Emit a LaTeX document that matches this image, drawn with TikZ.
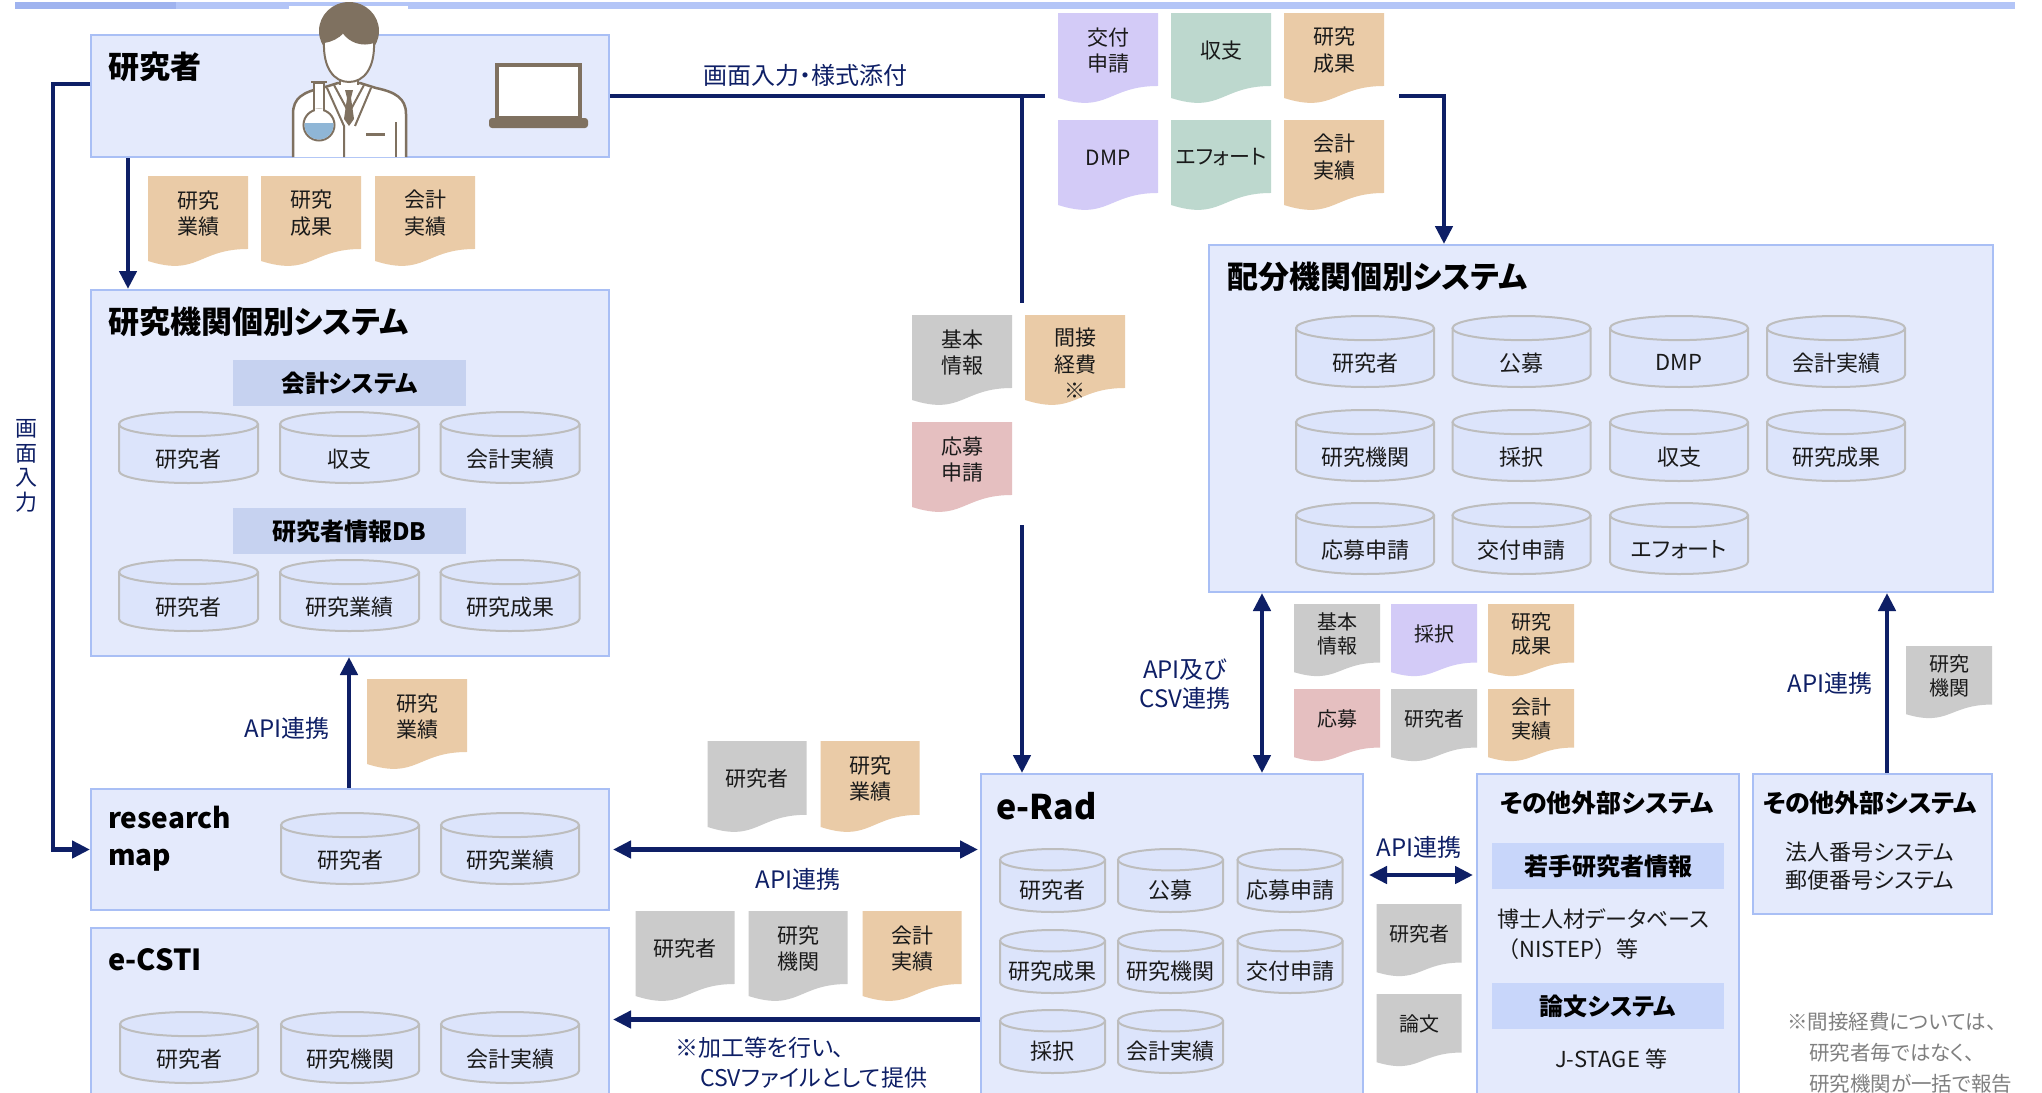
\documentclass[tikz,border=0pt]{standalone}
\usepackage{fontspec}
\setmainfont{Noto Sans CJK JP}[RawFeature={+palt}]
\newfontfamily\jpfull{Noto Sans CJK JP}
\usetikzlibrary{arrows.meta,calc}

\definecolor{navy}{HTML}{0E1F66}
\definecolor{boxfill}{HTML}{E4EAFC}
\definecolor{boxedge}{HTML}{A9BFF5}
\definecolor{cylfill}{HTML}{DCE4FB}
\definecolor{cyledge}{HTML}{BDBDBD}
\definecolor{hdrfill}{HTML}{C6D2F0}
\definecolor{hdrblue}{HTML}{C8D6FA}
\definecolor{doctan}{HTML}{EACBA7}
\definecolor{doclav}{HTML}{D3CBF7}
\definecolor{docmint}{HTML}{BDD8CE}
\definecolor{docgray}{HTML}{CBCBCB}
\definecolor{docpink}{HTML}{E5BFC0}
\definecolor{figbrown}{HTML}{7F7160}
\definecolor{liquid}{HTML}{8FB6D6}
\definecolor{barblue}{HTML}{B3C5F7}
\definecolor{bardark}{HTML}{9FB3EF}
\definecolor{notegray}{HTML}{808080}
\definecolor{inktext}{HTML}{1A1A1A}

\tikzset{
  sysbox/.style={draw=boxedge, fill=boxfill, line width=2pt, inner sep=0pt, anchor=north west},
  boxtitle/.style={font=\fontsize{31}{37}\selectfont\bfseries, anchor=west, inner sep=0pt, align=left, text=black},
  subtitle/.style={font=\fontsize{25}{30}\selectfont\bfseries, inner sep=0pt, text=black},
  hdr/.style={fill=hdrfill, minimum width=233pt, minimum height=46pt, inner sep=0pt,
    font=\fontsize{24}{28}\selectfont\bfseries, text=black},
  doctext/.style={font=\fontsize{21}{26.5}\selectfont, align=center, inner sep=0pt, text=inktext},
  smalldoc/.style={font=\fontsize{20}{24.5}\selectfont, align=center, inner sep=0pt, text=inktext},
  cyltext/.style={font=\fontsize{22}{26}\selectfont, inner sep=0pt, text=inktext},
  plaintext/.style={font=\fontsize{22}{30}\selectfont, inner sep=0pt, text=inktext},
  lbl/.style={font=\fontsize{24}{29}\selectfont, text=navy, inner sep=0pt, align=center},
  conn/.style={draw=navy, line width=4.5pt},
  tip/.tip={Triangle[length=18pt,width=17pt]},
}

% document-shaped data card: [text style]{name}{centre x}{top}{width}{height}{fill}{text}
\newcommand\docitem[8][doctext]{%
  \begin{scope}[shift={(#3,#4)}]
    \fill[#7] (-#5/2,0) -- (#5/2,0) -- (#5/2,0.802*#6)
      .. controls (0,0.802*#6) and (0,1.108*#6) .. (-#5/2,0.934*#6) -- cycle;
    \node[#1] (#2) at (0,0.41*#6) {#8};
  \end{scope}}

% database cylinder: {name}{centre x}{top}{width}{height}{text}
\newcommand\dbitem[6]{%
  \begin{scope}[shift={(#2,#3)}]
    \pgfmathsetmacro\cylhw{#4/2}%
    \pgfmathsetmacro\cylry{#5*0.17}%
    \path[fill=cylfill, draw=cyledge, line width=2pt]
      (-\cylhw,\cylry) -- (-\cylhw,#5-\cylry)
      .. controls (-\cylhw,#5-0.4477*\cylry) and (-0.5523*\cylhw,#5) .. (0,#5)
      .. controls (0.5523*\cylhw,#5) and (\cylhw,#5-0.4477*\cylry) .. (\cylhw,#5-\cylry)
      -- (\cylhw,\cylry);
    \path[fill=cylfill, draw=cyledge, line width=2pt]
      (0,\cylry) ellipse [x radius=\cylhw, y radius=\cylry];
    \node[cyltext] (#1) at (0,0.66*#5) {#6};
  \end{scope}}

\begin{document}
\begin{tikzpicture}[x=1pt,y=-1pt]
\useasboundingbox (0,0) rectangle (2042,1092);
\clip (0,0) rectangle (2042,1092);
\fill[white] (0,0) rectangle (2042,1092);

% header band
\fill[barblue] (15,2) rectangle (2015,9);
\fill[bardark] (15,2) rectangle (176,9);

% ---------- system boxes ----------
\node[sysbox, minimum width=518pt, minimum height=122pt] (kbox)   at (90,34)   {};
\node[sysbox, minimum width=518pt, minimum height=366pt] (kikan)  at (90,289)  {};
\node[sysbox, minimum width=784pt, minimum height=347pt] (haibun) at (1208,244) {};
\node[sysbox, minimum width=518pt, minimum height=121pt] (rmap)   at (90,788)  {};
\node[sysbox, minimum width=518pt, minimum height=183pt] (ecsti)  at (90,927)  {};
\node[sysbox, minimum width=382pt, minimum height=340pt] (erad)   at (980,773) {};
\node[sysbox, minimum width=262pt, minimum height=340pt] (other1) at (1476,773) {};
\node[sysbox, minimum width=239pt, minimum height=140pt] (other2) at (1752,773) {};

% ---------- researcher figure and laptop ----------
\fill[white] (289,6) rectangle (408,34);
\fill[figbrown] (349,31) ellipse [x radius=30, y radius=29];
\draw[figbrown, line width=2.5pt, fill=white]
  (293,157) -- (293,114) .. controls (293,98) and (303,92) .. (322,88) -- (338,83)
  -- (360,83) -- (376,88) .. controls (395,92) and (406,98) .. (406,114) -- (406,157);
\draw[figbrown, line width=2pt, fill=white] (340,74) rectangle (358,88);
\draw[figbrown, line width=2pt, fill=white]
  (324,42) .. controls (323,68) and (334,82) .. (349,82)
  .. controls (364,82) and (375,68) .. (374,42)
  .. controls (362,46) and (350,42) .. (343,32)
  .. controls (338,38) and (331,41) .. (324,42) -- cycle;
\draw[figbrown, line width=2pt, fill=white] (334,85) -- (349,113) -- (364,85);
\fill[figbrown] (345,90) -- (353,90) -- (351,98) -- (354,119) -- (349,126) -- (344,119) -- (347,98) -- cycle;
\draw[figbrown, line width=2pt] (327,88) -- (344,126) -- (344,157);
\draw[figbrown, line width=2pt] (371,88) -- (355,126);
\draw[figbrown, line width=2pt] (396,122) -- (396,157);
\draw[figbrown, line width=3pt] (366,134) -- (385,134);
% flask
\draw[figbrown, line width=2pt, fill=white] (314,83) rectangle (324,112);
\draw[figbrown, line width=2pt, fill=white] (319,125) circle [radius=15.5];
\begin{scope}
  \clip (319,125) circle [radius=14.5];
  \fill[liquid] (300,123) rectangle (340,145);
\end{scope}
\fill[white] (315.2,109) rectangle (322.8,112);
\draw[figbrown, line width=2.5pt] (311,82) -- (327,82);
% laptop
\draw[figbrown, line width=4pt, fill=white] (497,65) rectangle (580,118);
\fill[figbrown, rounded corners=3pt] (489,118) rectangle (588,128);

% ---------- titles ----------
\node[boxtitle] (tK)      at (108,67)  {研究者};
\node[boxtitle] (tKikan)  at (108,322) {研究機関個別システム};
\node[boxtitle] (tHaibun) at (1227,277) {配分機関個別システム};
\node[boxtitle, font=\fontsize{28}{37}\selectfont\bfseries] (tRmap) at (108,839) {research\\map};
\node[boxtitle, font=\fontsize{34}{40}\selectfont\bfseries] (tErad) at (996,806) {e-Rad};
\node[boxtitle, font=\fontsize{29}{36}\selectfont\bfseries] (tEcsti) at (108,960) {e-CSTI};
\node[subtitle] (tO1) at (1607,803) {その他外部システム};
\node[subtitle] (tO2) at (1870,803) {その他外部システム};

% ---------- section headers ----------
\node[hdr] (hKaikei) at (349.5,383) {会計システム};
\node[hdr] (hDB)     at (349.5,531) {研究者情報DB};
\node[hdr, fill=hdrblue, minimum width=232pt] (hWakate) at (1608,866)  {若手研究者情報};
\node[hdr, fill=hdrblue, minimum width=232pt] (hRonbun) at (1608,1006) {論文システム};

% ---------- databases ----------
\dbitem{kA}{188.5}{412}{139}{71}{研究者}
\dbitem{kB}{349.5}{412}{139}{71}{収支}
\dbitem{kC}{510}{412}{139}{71}{会計実績}
\dbitem{kD}{188.5}{560}{139}{71}{研究者}
\dbitem{kE}{349.5}{560}{139}{71}{研究業績}
\dbitem{kF}{510}{560}{139}{71}{研究成果}

\dbitem{hA}{1365}{316}{138}{71}{研究者}
\dbitem{hB}{1521.5}{316}{138}{71}{公募}
\dbitem{hC}{1679}{316}{138}{71}{DMP}
\dbitem{hD}{1836}{316}{138}{71}{会計実績}
\dbitem{hE}{1365}{410}{138}{71}{研究機関}
\dbitem{hF}{1521.5}{410}{138}{71}{採択}
\dbitem{hG}{1679}{410}{138}{71}{収支}
\dbitem{hH}{1836}{410}{138}{71}{研究成果}
\dbitem{hI}{1365}{503}{138}{71}{応募申請}
\dbitem{hJ}{1521.5}{503}{138}{71}{交付申請}
\dbitem{hK}{1679}{503}{138}{71}{エフォート}

\dbitem{rA}{350}{813}{138}{71}{研究者}
\dbitem{rB}{510}{813}{138}{71}{研究業績}

\dbitem{cA}{189}{1012}{138}{71}{研究者}
\dbitem{cB}{350}{1012}{138}{71}{研究機関}
\dbitem{cC}{510}{1012}{138}{71}{会計実績}

\dbitem{eA}{1052.5}{849}{105}{63}{研究者}
\dbitem{eB}{1170.5}{849}{105}{63}{公募}
\dbitem{eC}{1290}{849}{105}{63}{応募申請}
\dbitem{eD}{1052.5}{930}{105}{63}{研究成果}
\dbitem{eE}{1170.5}{930}{105}{63}{研究機関}
\dbitem{eF}{1290}{930}{105}{63}{交付申請}
\dbitem{eG}{1052.5}{1010}{105}{63}{採択}
\dbitem{eH}{1170.5}{1010}{105}{63}{会計実績}

% ---------- text in the external-system boxes ----------
\node[plaintext, anchor=west, align=left] (hakase) at (1497,934.5)
  {博士人材データベース\\{\jpfull （}NISTEP{\jpfull ）}等};
\node[plaintext] (jstage) at (1611,1059) {J-STAGE 等};
\node[plaintext, align=center, font=\fontsize{22}{28}\selectfont] (houjin) at (1870,866) {法人番号システム\\郵便番号システム};

% ---------- data cards ----------
\docitem{dK1}{198}{176}{100}{91}{doctan}{研究\\業績}
\docitem{dK2}{311}{176}{100}{91}{doctan}{研究\\成果}
\docitem{dK3}{425}{176}{100}{91}{doctan}{会計\\実績}

\docitem{dT1}{1108}{13}{100}{91}{doclav}{交付\\申請}
\docitem{dT2}{1221}{13}{100}{91}{docmint}{収支}
\docitem{dT3}{1334}{13}{100}{91}{doctan}{研究\\成果}
\docitem{dT4}{1108}{120}{100}{91}{doclav}{DMP}
\docitem{dT5}{1221}{120}{100}{91}{docmint}{エフォート}
\docitem{dT6}{1334}{120}{100}{91}{doctan}{会計\\実績}

\docitem{dM1}{962}{315}{100}{91}{docgray}{基本\\情報}
\docitem[doctext, yshift=-11pt]{dM2}{1075}{315}{100}{91}{doctan}{間接\\経費\\※}
\docitem{dM3}{962}{422}{100}{91}{docpink}{応募\\申請}

\docitem[smalldoc]{dH1}{1337}{604}{86}{73}{docgray}{基本\\情報}
\docitem[smalldoc]{dH2}{1434}{604}{86}{73}{doclav}{採択}
\docitem[smalldoc]{dH3}{1531}{604}{86}{73}{doctan}{研究\\成果}
\docitem[smalldoc]{dH4}{1337}{689}{86}{73}{docpink}{応募}
\docitem[smalldoc]{dH5}{1434}{689}{86}{73}{docgray}{研究者}
\docitem[smalldoc]{dH6}{1531}{689}{86}{73}{doctan}{会計\\実績}

\docitem[smalldoc]{dR1}{1949}{646}{86}{73}{docgray}{研究\\機関}

\docitem{dB1}{417}{679}{100}{91}{doctan}{研究\\業績}
\docitem{dB2}{757}{741}{99}{92}{docgray}{研究者}
\docitem{dB3}{870}{741}{99}{92}{doctan}{研究\\業績}
\docitem{dB4}{685}{911}{99}{91}{docgray}{研究者}
\docitem{dB5}{798}{911}{99}{91}{docgray}{研究\\機関}
\docitem{dB6}{912}{911}{99}{91}{doctan}{会計\\実績}

\docitem[smalldoc]{dE1}{1419}{904}{85}{73}{docgray}{研究者}
\docitem[smalldoc]{dE2}{1419}{994}{85}{73}{docgray}{論文}

% ---------- connectors ----------
% screen input from the researcher to researchmap
\draw[conn, -tip] ($(kbox.north west)+(0,50)$) -- ++(-37,0) |- (rmap.west);
% researcher to institution system
\draw[conn, -tip] ($(kbox.south west)+(38,0)$) -- ($(kikan.north west)+(38,0)$);
% screen input / form attachment line
\coordinate (lineEnd) at (1045,96);
\coordinate (branch) at (1022,96);
\coordinate (dropA) at (1022,303);
\coordinate (dropB) at (1022,525);
\coordinate (lineResume) at (1399,96);
\draw[conn] ($(kbox.north east)+(0,62)$) -- (lineEnd);
\draw[conn] (branch) -- (dropA);
\draw[conn, -tip] (dropB) -- (dropB |- erad.north);
\draw[conn, -tip] (lineResume) -| ($(haibun.north west)+(236,0)$);
% e-Rad and funding agency system
\draw[conn, tip-tip] ($(erad.north west)+(282,0)$) -- ($(haibun.south west)+(54,0)$);
% external system to funding agency system
\draw[conn, -tip] ($(other2.north west)+(135,0)$) -- ($(haibun.south west)+(679,0)$);
% researchmap to institution system
\draw[conn, -tip] ($(rmap.north west)+(259,0)$) -- ($(kikan.south west)+(259,0)$);
% researchmap and e-Rad
\draw[conn, tip-tip, shorten <=3pt, shorten >=2pt] (rmap.east) -- (rmap.east -| erad.west);
% e-Rad to e-CSTI
\draw[conn, -tip, shorten >=3pt] (erad.west |- ecsti.east) -- (ecsti.east);
% e-Rad and external systems
\draw[conn, tip-tip, shorten <=5pt, shorten >=3pt] ($(erad.north east)+(0,102)$) -- ($(other1.north west)+(0,102)$);

% ---------- connector labels ----------
\node[lbl] (lGamen)  at (805,75)   {画面入力・様式添付};
\node[lbl, font=\fontsize{22}{24.5}\selectfont] (lGamenV) at (27,466) {画\\面\\入\\力};
\node[lbl] (lApiL)   at (287,728)  {API連携};
\node[lbl] (lApiM)   at (798,879)  {API連携};
\node[lbl] (lApiCsv) at (1185,684) {API及び\\CSV連携};
\node[lbl] (lApiE)   at (1419,847) {API連携};
\node[lbl] (lApiR)   at (1830,683) {API連携};
\node[lbl, anchor=west, align=left, font=\fontsize{23}{30}\selectfont] (lKakou) at (675,1063)
  {※加工等を行い、\\\hspace*{25pt}CSVファイルとして提供};

% footnote on indirect costs
\node[font=\fontsize{20.5}{31}\selectfont, text=notegray, anchor=west, align=left, inner sep=0pt] (note)
  at (1787,1053) {※間接経費については、\\\hspace*{22pt}研究者毎ではなく、\\\hspace*{22pt}研究機関が一括で報告};
\end{tikzpicture}
\end{document}
